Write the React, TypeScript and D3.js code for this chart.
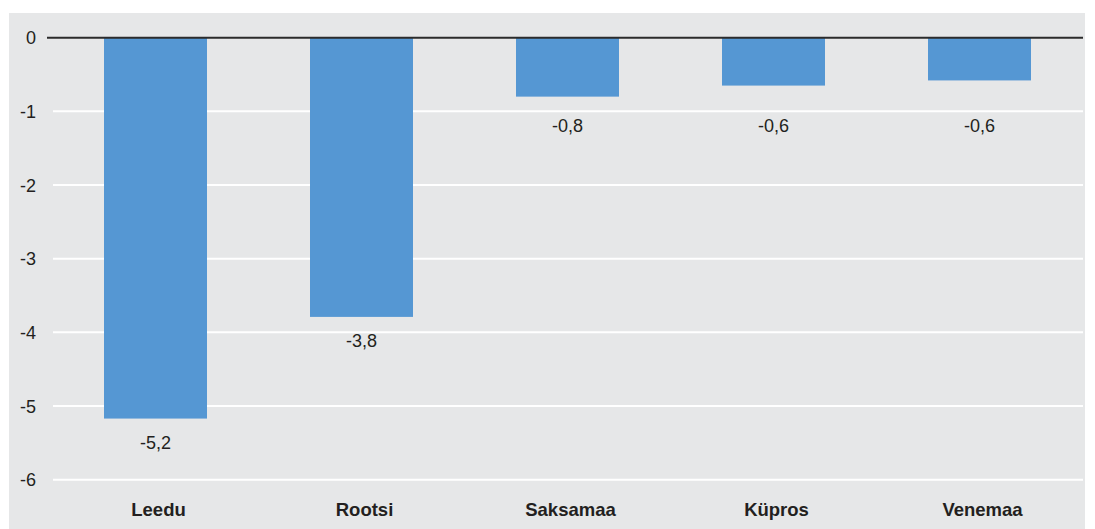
import React from "react";
import * as d3 from "d3";

const categories = ["Leedu", "Rootsi", "Saksamaa", "Küpros", "Venemaa"];
const values = [-5.17, -3.79, -0.8, -0.65, -0.58];
const valueLabels = ["-5,2", "-3,8", "-0,8", "-0,6", "-0,6"];
const yTicks = [0, -1, -2, -3, -4, -5, -6];

const W = 1095;
const H = 529;
const FONT = "'Liberation Sans', Arial, sans-serif";
const TEXT = "#231f20";

export default function App() {
  const y = d3.scaleLinear().domain([-6, 0]).range([479.7, 37.7]);
  const x = d3
    .scaleBand<string>()
    .domain(categories)
    .range([52.5, 1082.5])
    .paddingInner(0.5)
    .paddingOuter(0.25);

  const minLabelY = y(-1.28);

  return (
    <div style={{ position: "absolute", left: 0, top: 0 }}>
      <svg width={W} height={H} style={{ display: "block" }}>
        <rect x={0} y={0} width={W} height={H} fill="#ffffff" />
        <rect x={9} y={13} width={1076} height={H - 13} fill="#e6e7e8" />
        {yTicks
          .filter((t) => t !== 0)
          .map((t) => (
            <line
              key={"g" + t}
              x1={53}
              x2={1083}
              y1={y(t)}
              y2={y(t)}
              stroke="#ffffff"
              strokeWidth={2}
            />
          ))}
        {categories.map((c, i) => {
          const v = values[i];
          const top = y(0);
          const bottom = y(v);
          return (
            <rect
              key={"b" + c}
              x={x(c)}
              y={top}
              width={x.bandwidth()}
              height={bottom - top}
              fill="#5597d3"
            />
          );
        })}
        <line x1={47} x2={1083} y1={y(0)} y2={y(0)} stroke="#2b2b2b" strokeWidth={2} />
        {yTicks.map((t) => (
          <text
            key={"t" + t}
            x={36}
            y={y(t)}
            dy="0.36em"
            textAnchor="end"
            fontFamily={FONT}
            fontSize={18}
            fill={TEXT}
          >
            {t === 0 ? "0" : String(t)}
          </text>
        ))}
        {categories.map((c, i) => {
          const cx = (x(c) as number) + x.bandwidth() / 2;
          const ly = Math.max(y(values[i]) + 30, minLabelY);
          return (
            <text
              key={"v" + c}
              x={cx}
              y={ly}
              textAnchor="middle"
              fontFamily={FONT}
              fontSize={18}
              fill={TEXT}
            >
              {valueLabels[i]}
            </text>
          );
        })}
        {categories.map((c) => {
          const cx = (x(c) as number) + x.bandwidth() / 2 + 3;
          return (
            <text
              key={"c" + c}
              x={cx}
              y={516}
              textAnchor="middle"
              fontFamily={FONT}
              fontSize={18.5}
              fontWeight="bold"
              fill={TEXT}
            >
              {c}
            </text>
          );
        })}
      </svg>
    </div>
  );
}
